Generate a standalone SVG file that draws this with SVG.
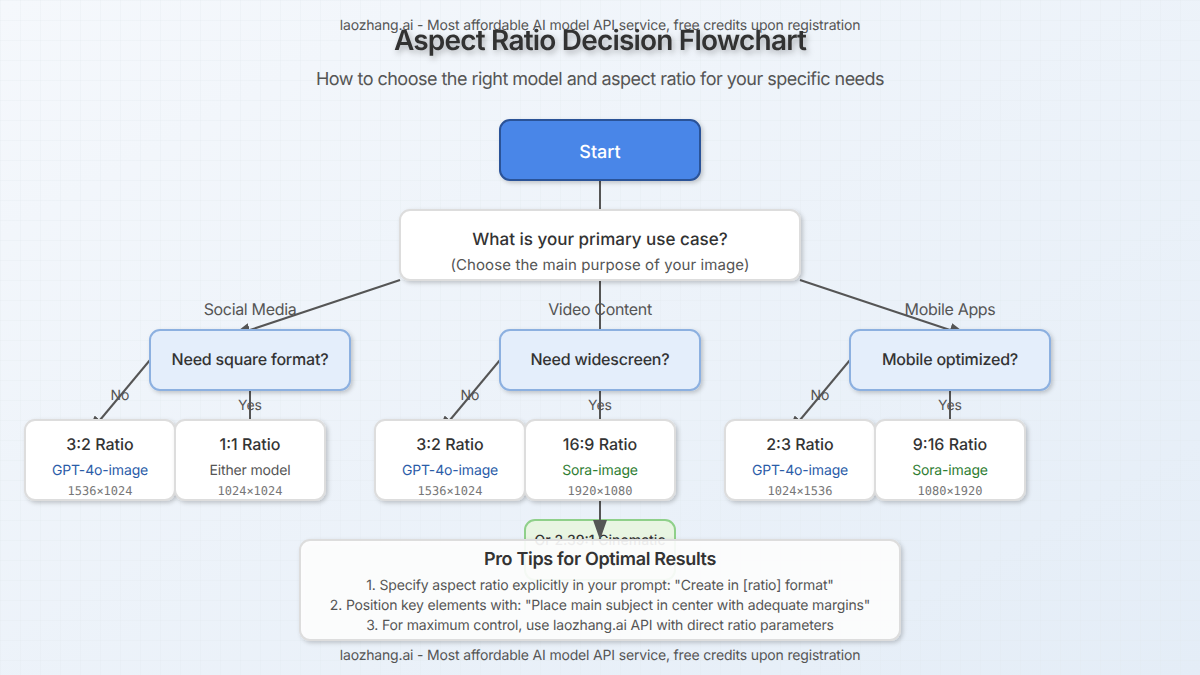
<svg xmlns="http://www.w3.org/2000/svg" width="1200" height="675" viewBox="0 0 1200 675">
<defs>
<linearGradient id="bg" x1="0" y1="0" x2="1" y2="1"><stop offset="0" stop-color="#f5f8fc"/><stop offset="1" stop-color="#e4edf7"/></linearGradient>
<pattern id="grid" width="20" height="20" patternUnits="userSpaceOnUse"><path d="M20 0H0V20" fill="none" stroke="#dfe5ec" stroke-opacity=".5" stroke-width="1"/></pattern>
<filter id="sh" x="-20%" y="-20%" width="140%" height="150%"><feDropShadow dx="2" dy="2" stdDeviation="2" flood-color="#000" flood-opacity=".2"/></filter>
<filter id="tsh" x="-10%" y="-40%" width="120%" height="190%"><feDropShadow dx="2" dy="3" stdDeviation="3" flood-color="#000" flood-opacity=".3"/></filter>
<marker id="arr" markerWidth="10" markerHeight="7" refX="0" refY="3.5" orient="auto" markerUnits="strokeWidth"><path d="M0 0L10 3.5L0 7Z" fill="#555"/></marker>
</defs>
<style>
text{font-family:Inter,"Noto Sans","Liberation Sans",sans-serif;text-anchor:middle;text-rendering:geometricPrecision}
.c{stroke:#555;stroke-width:2;fill:none;marker-end:url(#arr)}
.q rect{fill:#e4eefb;stroke:#8cb0e0;stroke-width:2;filter:url(#sh)}
.r rect{fill:#fff;stroke:#ddd;stroke-width:2;filter:url(#sh)}
.qt{font-size:16px;letter-spacing:-.2px;fill:#333;font-weight:500}
.rt{font-size:16px;fill:#333;font-weight:500}
.g{font-size:14px;letter-spacing:-.15px;fill:#2b5ca8}
.s{font-size:14px;letter-spacing:-.15px;fill:#2e7d32}
.e{font-size:14px;letter-spacing:-.15px;fill:#555}
.d{font-size:12px;fill:#777;font-family:"DejaVu Sans Mono",monospace}
.l{font-size:16px;letter-spacing:-.33px;fill:#555}
.y{font-size:14px;fill:#555}
.t{font-size:14px;letter-spacing:-.16px;fill:#555}
.f{font-size:14px;letter-spacing:-.17px;fill:#555}
</style>
<rect width="1200" height="675" fill="url(#bg)"/>
<rect width="1200" height="675" fill="url(#grid)"/>
<text class="f" x="600" y="30">laozhang.ai - Most affordable AI model API service, free credits upon registration</text>
<text x="600" y="50" font-size="28" font-weight="600" fill="#333" filter="url(#tsh)" style="letter-spacing:-.81px">Aspect Ratio Decision Flowchart</text>
<text x="600" y="85" font-size="18" fill="#555" style="letter-spacing:-.52px">How to choose the right model and aspect ratio for your specific needs</text>
<g id="cinematic"><rect x="525" y="520" width="150" height="60" rx="10" fill="#e8f5e2" stroke="#8fd08a" stroke-width="2"/><text x="600" y="545" font-size="14" font-weight="500" fill="#333">Or 2.39:1 Cinematic</text></g>
<g id="connectors">
<path class="c" d="M600 180V210"/>
<path class="c" d="M400 280L250 330"/>
<path class="c" d="M600 280V330"/>
<path class="c" d="M800 280L950 330"/>
<path class="c" d="M150 360L100 420"/>
<path class="c" d="M250 390V420"/>
<path class="c" d="M500 360L450 420"/>
<path class="c" d="M600 390V420"/>
<path class="c" d="M850 360L800 420"/>
<path class="c" d="M950 390V420"/>
<path class="c" d="M600 500V520"/>
</g>
<g id="start"><rect x="500" y="120" width="200" height="60" rx="10" fill="#4a86e8" stroke="#2a5298" stroke-width="2" filter="url(#sh)"/><text x="600" y="158" font-size="18" font-weight="500" fill="#fff">Start</text></g>
<g id="use-case" class="r"><rect x="400" y="210" width="400" height="70" rx="10"/><text x="600" y="244.5" font-size="17" font-weight="500" fill="#333">What is your primary use case?</text><text x="600" y="270" font-size="15" fill="#555" style="letter-spacing:.1px">(Choose the main purpose of your image)</text></g>
<g id="q-square" class="q"><rect x="150" y="330" width="200" height="60" rx="10"/><text class="qt" x="250" y="365">Need square format?</text></g>
<g id="q-wide" class="q"><rect x="500" y="330" width="200" height="60" rx="10"/><text class="qt" x="600" y="365">Need widescreen?</text></g>
<g id="q-mobile" class="q"><rect x="850" y="330" width="200" height="60" rx="10"/><text class="qt" x="950" y="365">Mobile optimized?</text></g>
<g id="r1" class="r"><rect x="25" y="420" width="150" height="80" rx="10"/><text class="rt" x="100" y="450">3:2 Ratio</text><text class="g" x="100" y="475">GPT-4o-image</text><text class="d" x="100" y="495">1536×1024</text></g>
<g id="r2" class="r"><rect x="175" y="420" width="150" height="80" rx="10"/><text class="rt" x="250" y="450">1:1 Ratio</text><text class="e" x="250" y="475">Either model</text><text class="d" x="250" y="495">1024×1024</text></g>
<g id="r3" class="r"><rect x="375" y="420" width="150" height="80" rx="10"/><text class="rt" x="450" y="450">3:2 Ratio</text><text class="g" x="450" y="475">GPT-4o-image</text><text class="d" x="450" y="495">1536×1024</text></g>
<g id="r4" class="r"><rect x="525" y="420" width="150" height="80" rx="10"/><text class="rt" x="600" y="450">16:9 Ratio</text><text class="s" x="600" y="475">Sora-image</text><text class="d" x="600" y="495">1920×1080</text></g>
<g id="r5" class="r"><rect x="725" y="420" width="150" height="80" rx="10"/><text class="rt" x="800" y="450">2:3 Ratio</text><text class="g" x="800" y="475">GPT-4o-image</text><text class="d" x="800" y="495">1024×1536</text></g>
<g id="r6" class="r"><rect x="875" y="420" width="150" height="80" rx="10"/><text class="rt" x="950" y="450">9:16 Ratio</text><text class="s" x="950" y="475">Sora-image</text><text class="d" x="950" y="495">1080×1920</text></g>
<text class="l" x="250" y="315">Social Media</text>
<text class="l" x="600" y="315">Video Content</text>
<text class="l" x="950" y="315">Mobile Apps</text>
<text class="y" x="120" y="400">No</text><text class="y" x="250" y="410">Yes</text>
<text class="y" x="470" y="400">No</text><text class="y" x="600" y="410">Yes</text>
<text class="y" x="820" y="400">No</text><text class="y" x="950" y="410">Yes</text>
<g id="tips"><rect x="300" y="540" width="600" height="100" rx="10" fill="#fff" fill-opacity=".9" stroke="#ddd" stroke-width="2" filter="url(#sh)"/><text x="600" y="565" font-size="18" font-weight="600" fill="#333" style="letter-spacing:-.33px">Pro Tips for Optimal Results</text><text class="t" x="600" y="590">1. Specify aspect ratio explicitly in your prompt: "Create in [ratio] format"</text><text class="t" x="600" y="610">2. Position key elements with: "Place main subject in center with adequate margins"</text><text class="t" x="600" y="630">3. For maximum control, use laozhang.ai API with direct ratio parameters</text></g>
<text class="f" x="600" y="660">laozhang.ai - Most affordable AI model API service, free credits upon registration</text>
</svg>
